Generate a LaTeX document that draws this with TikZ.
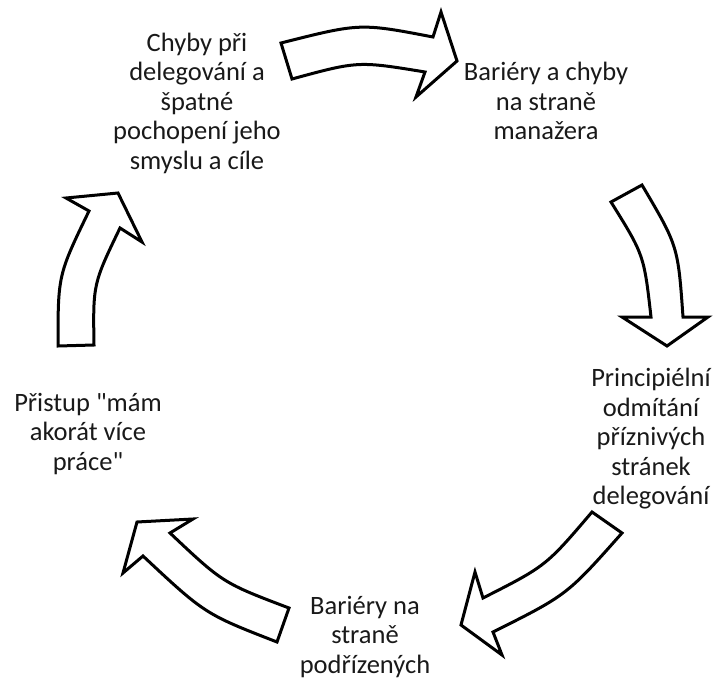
\documentclass[tikz,border=0pt]{standalone}
\usepackage{fontspec}
\setmainfont{Carlito}
\newcommand{\sq}{\XeTeXglyph\XeTeXcharglyph"22\relax}
\begin{document}
\begin{tikzpicture}[x=1pt,y=-1pt,
  lbl/.style={align=center, font=\fontsize{26.5}{29.5}\selectfont, text=black!90, inner sep=0pt},
  blockarrow/.style={draw=black, line width=3pt, fill=white, line join=miter}]
\useasboundingbox (0,0) rectangle (718,682);

\node[lbl] (t1) at (197,103) {Chyby při\\delegování a\\špatné\\pochopení jeho\\smyslu a cíle};
\node[lbl] (t2) at (546,101) {Bariéry a chyby\\na straně\\manažera};
\node[lbl] (t3) at (651,439) {Principiélní\\odmítání\\příznivých\\stránek\\delegování};
\node[lbl] (t4) at (365,637) {Bariéry na\\straně\\podřízených};
\node[lbl] (t5) at (88,434) {Přistup \sq mám\\akorát více\\práce\sq};

% top arrow
\draw[blockarrow] (281,43) .. controls (360,23) .. (433,37) -- (441,12) -- (457,61) -- (416,97) -- (425,72)
  .. controls (358,61) .. (292,79) -- cycle;
% right arrow
\draw[blockarrow] (642,185) .. controls (678,246) .. (683,317) -- (708,317) -- (667,346) -- (622,317) -- (651,317)
  .. controls (644,255) .. (611,202) -- cycle;
% bottom-right arrow
\draw[blockarrow] (622,533) .. controls (567,595) .. (493,632) -- (502,655) -- (461,625) -- (475,572) -- (483,598)
  .. controls (546,566) .. (592,512) -- cycle;
% bottom-left arrow
\draw[blockarrow] (277,642) .. controls (205,614) .. (143,556) -- (123,573) -- (137,522) -- (193,519) -- (170,533)
  .. controls (223,583) .. (289,608) -- cycle;
% left arrow
\draw[blockarrow] (58,346) .. controls (58,275) .. (89,211) -- (66,198) -- (118,193) -- (142,242) -- (120,228)
  .. controls (93,284) .. (94,345) -- cycle;
\end{tikzpicture}
\end{document}
